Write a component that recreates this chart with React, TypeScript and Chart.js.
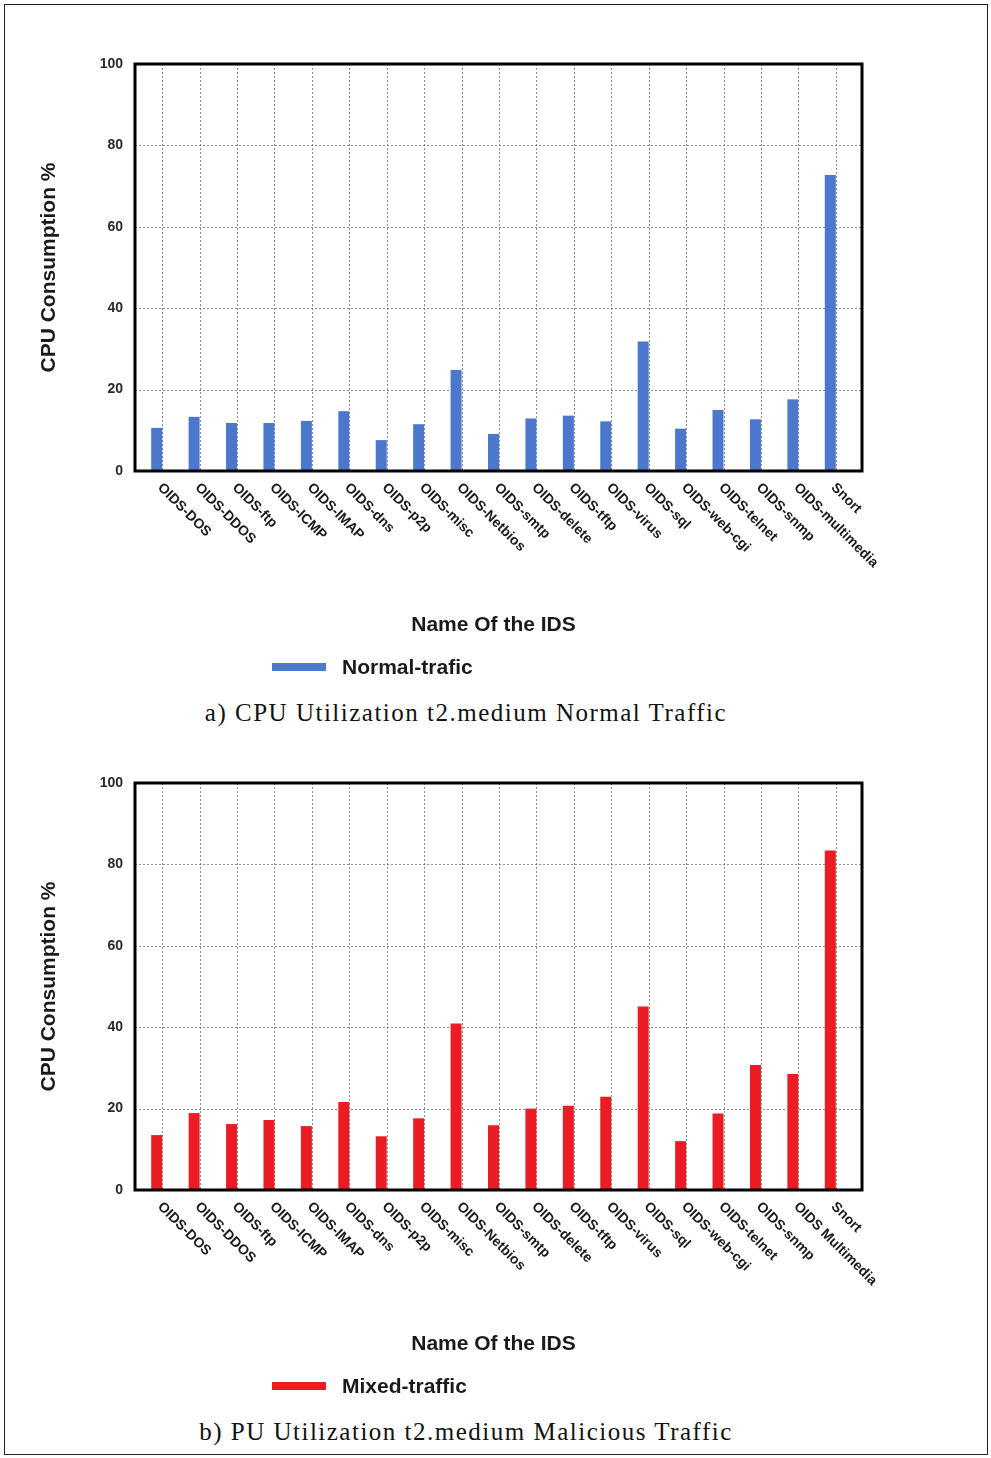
import React, { useEffect, useRef } from "react";
import { Chart, registerables } from "chart.js";

Chart.register(...registerables);

// IDS names shown under each bar
const normalLabels = [
  "OIDS-DOS", "OIDS-DDOS", "OIDS-ftp", "OIDS-ICMP", "OIDS-IMAP", "OIDS-dns",
  "OIDS-p2p", "OIDS-misc", "OIDS-Netbios", "OIDS-smtp", "OIDS-delete", "OIDS-tftp",
  "OIDS-virus", "OIDS-sql", "OIDS-web-cgi", "OIDS-telnet", "OIDS-snmp",
  "OIDS-multimedia", "Snort",
];
const mixedLabels = [
  "OIDS-DOS", "OIDS-DDOS", "OIDS-ftp", "OIDS-ICMP", "OIDS-IMAP", "OIDS-dns",
  "OIDS-p2p", "OIDS-misc", "OIDS-Netbios", "OIDS-smtp", "OIDS-delete", "OIDS-tftp",
  "OIDS-virus", "OIDS-sql", "OIDS-web-cgi", "OIDS-telnet", "OIDS-snmp",
  "OIDS Multimedia", "Snort",
];

// CPU consumption (%) per IDS
const normalTraffic = [
  10.6, 13.3, 11.8, 11.8, 12.3, 14.7, 7.6, 11.5, 24.8, 9.1,
  12.9, 13.6, 12.2, 31.8, 10.4, 15.0, 12.7, 17.6, 72.7,
];
const mixedTraffic = [
  13.5, 18.9, 16.2, 17.2, 15.7, 21.6, 13.2, 17.6, 40.9, 15.9,
  20.0, 20.7, 22.9, 45.1, 12.0, 18.8, 30.7, 28.5, 83.4,
];

const yTickValues = [0, 20, 40, 60, 80, 100];

const SANS = "'Liberation Sans', Arial, Helvetica, sans-serif";
const CANVAS_W = 870;
const CANVAS_H = 655;

// frame drawn slightly outside the category band
const FRAME_LEFT = 3;
const FRAME_RIGHT = 13;

const decorPlugin = {
  id: "decor",
  beforeDatasetsDraw(chart: any) {
    const { ctx, chartArea: a, scales } = chart;
    const meta = chart.getDatasetMeta(0);
    const left = a.left - FRAME_LEFT;
    const right = a.right + FRAME_RIGHT;
    ctx.save();
    ctx.strokeStyle = "rgba(105,105,105,0.75)";
    ctx.lineWidth = 1;
    ctx.setLineDash([2, 2]);
    // horizontal dotted grid
    for (const v of yTickValues) {
      if (v === 0 || v === 100) continue;
      const y = Math.round(scales.y.getPixelForValue(v)) + 0.5;
      ctx.beginPath();
      ctx.moveTo(left, y);
      ctx.lineTo(right, y);
      ctx.stroke();
    }
    // vertical dotted grid at each bar's right edge
    meta.data.forEach((bar: any) => {
      const p = bar.getProps(["x", "width"], true);
      const x = Math.round(p.x + p.width / 2) + 0.5;
      ctx.beginPath();
      ctx.moveTo(x, a.top);
      ctx.lineTo(x, a.bottom);
      ctx.stroke();
    });
    ctx.restore();
  },
  afterDraw(chart: any) {
    const { ctx, chartArea: a } = chart;
    const meta = chart.getDatasetMeta(0);
    const ds = chart.data.datasets[0];
    const labels = chart.data.labels as string[];
    ctx.save();
    // plot frame
    ctx.setLineDash([]);
    ctx.strokeStyle = "#000";
    ctx.lineWidth = 3;
    ctx.strokeRect(a.left - FRAME_LEFT, a.top, a.right - a.left + FRAME_LEFT + FRAME_RIGHT, a.bottom - a.top);

    // rotated category labels
    ctx.fillStyle = "#1a1a1a";
    ctx.font = `bold 14px ${SANS}`;
    ctx.textAlign = "left";
    ctx.textBaseline = "middle";
    meta.data.forEach((bar: any, i: number) => {
      const p = bar.getProps(["x", "width"], true);
      const x0 = p.x + p.width / 2;
      ctx.save();
      ctx.translate(x0 - 2.5, a.bottom + 14.5);
      ctx.rotate(Math.PI / 4);
      ctx.fillText(labels[i], 0, 0);
      ctx.restore();
    });

    // legend
    ctx.fillStyle = ds.backgroundColor;
    ctx.fillRect(242, 623, 54, 8);
    ctx.fillStyle = "#1a1a1a";
    ctx.font = `bold 21px ${SANS}`;
    ctx.textBaseline = "middle";
    ctx.fillText(ds.label, 312, 628);
    ctx.restore();
  },
};

type PanelProps = {
  labels: string[];
  values: number[];
  color: string;
  seriesName: string;
  top: number;
};

function ChartPanel({ labels, values, color, seriesName, top }: PanelProps) {
  const ref = useRef<HTMLCanvasElement | null>(null);

  useEffect(() => {
    if (!ref.current) return;
    const chart = new Chart(ref.current, {
      type: "bar",
      data: {
        labels,
        datasets: [
          {
            label: seriesName,
            data: values,
            backgroundColor: color,
            borderWidth: 0,
            categoryPercentage: 1,
            barPercentage: 0.294,
          },
        ],
      },
      options: {
        animation: false,
        responsive: false,
        devicePixelRatio: 1,
        layout: { padding: { top: 24, right: 51, bottom: 0, left: 0 } },
        plugins: {
          legend: { display: false },
          tooltip: { enabled: false },
        },
        scales: {
          x: {
            ticks: { display: false },
            grid: { display: false },
            border: { display: false },
            title: {
              display: true,
              text: "Name Of the IDS",
              color: "#1a1a1a",
              font: { family: SANS, size: 21, weight: "bold" },
              padding: { top: 0, bottom: 57 },
            },
            afterFit: (scale: any) => {
              scale.height = 224;
            },
          },
          y: {
            min: 0,
            max: 100,
            afterBuildTicks: (scale: any) => {
              scale.ticks = yTickValues.map((v) => ({ value: v }));
            },
            ticks: {
              color: "#2a2a2a",
              padding: 15,
              font: { family: SANS, size: 14, weight: "bold" },
            },
            grid: { display: false, drawTicks: false },
            border: { display: false },
            title: {
              display: true,
              text: "CPU Consumption %",
              color: "#1a1a1a",
              font: { family: SANS, size: 21, weight: "bold" },
              padding: { top: 7, bottom: 0 },
            },
            afterFit: (scale: any) => {
              scale.width = 108;
            },
          },
        },
      },
      plugins: [decorPlugin],
    });
    return () => chart.destroy();
  }, [labels, values, color, seriesName]);

  return (
    <canvas
      ref={ref}
      width={CANVAS_W}
      height={CANVAS_H}
      style={{ position: "absolute", left: 30, top, width: CANVAS_W, height: CANVAS_H, display: "block" }}
    />
  );
}

const captionStyle: React.CSSProperties = {
  position: "absolute",
  left: 0,
  width: 932,
  textAlign: "center",
  fontFamily: "'Liberation Serif', 'Times New Roman', serif",
  fontSize: 25,
  letterSpacing: 1.5,
  lineHeight: "30px",
  color: "#111",
  whiteSpace: "nowrap",
};

export default function App() {
  return (
    <div style={{ position: "absolute", left: 0, top: 0, width: 991, height: 1458, background: "#fff", overflow: "hidden" }}>
      <div
        style={{
          position: "absolute",
          left: 4,
          top: 4,
          width: 984,
          height: 1451,
          border: "1px solid #222",
          boxSizing: "border-box",
        }}
      />
      <ChartPanel labels={normalLabels} values={normalTraffic} color="#4b77cc" seriesName="Normal-trafic" top={40} />
      <div style={{ ...captionStyle, top: 698 }}>a) CPU Utilization t2.medium Normal Traffic</div>
      <ChartPanel labels={mixedLabels} values={mixedTraffic} color="#ec1c24" seriesName="Mixed-traffic" top={759} />
      <div style={{ ...captionStyle, top: 1417 }}>b) PU Utilization t2.medium Malicious Traffic</div>
    </div>
  );
}
